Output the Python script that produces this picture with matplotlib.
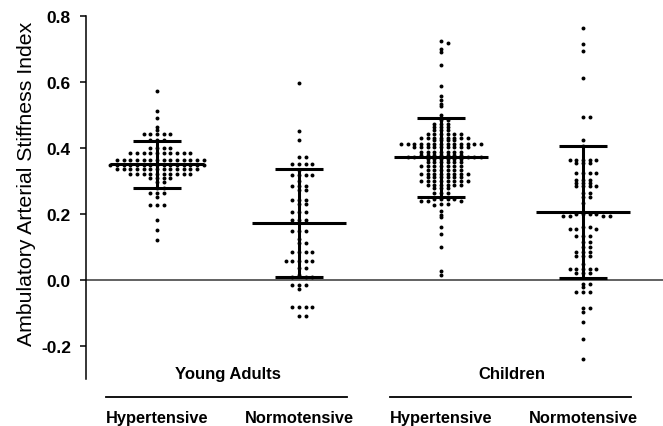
import numpy as np
import matplotlib
matplotlib.use("Agg")
import matplotlib.pyplot as plt
from matplotlib.transforms import blended_transform_factory

plt.rcParams['font.family'] = ['Liberation Sans', 'DejaVu Sans']

# dot rows: value of the row and how many dots sit in it
ya_hyp_vals = [0.572, 0.513, 0.492, 0.463, 0.454, 0.443, 0.423, 0.400, 0.385, 0.365,
               0.350, 0.338, 0.322, 0.310, 0.298, 0.280, 0.265, 0.252, 0.228, 0.183,
               0.153, 0.122]
ya_hyp_counts = [1, 1, 1, 1, 1, 5, 3, 4, 10, 14,
                 15, 13, 10, 4, 2, 2, 3, 1, 3, 1,
                 1, 1]

ya_norm_vals = [0.596, 0.451, 0.423, 0.373, 0.352, 0.335, 0.319, 0.300, 0.285, 0.272,
                0.242, 0.230, 0.205, 0.182, 0.150, 0.125, 0.111, 0.084, 0.058, 0.036,
                0.016, 0.009, -0.015, -0.027, -0.082, -0.108]
ya_norm_counts = [1, 1, 1, 2, 4, 1, 4, 1, 3, 2,
                  3, 2, 3, 3, 3, 1, 2, 4, 5, 2,
                  1, 3, 3, 1, 4, 2]

ch_hyp_vals = [0.724, 0.717, 0.699, 0.690, 0.651, 0.589, 0.557, 0.545, 0.535, 0.526,
               0.500, 0.484, 0.474, 0.464, 0.456, 0.444, 0.431, 0.423, 0.413, 0.403,
               0.388, 0.380, 0.374, 0.366, 0.358, 0.347, 0.335, 0.322, 0.312, 0.299,
               0.289, 0.279, 0.264, 0.246, 0.239, 0.231, 0.226, 0.208, 0.198, 0.190,
               0.162, 0.141, 0.099, 0.028, 0.015]
ch_hyp_counts = [1, 1, 1, 1, 1, 1, 1, 1, 1, 1,
                 1, 2, 3, 3, 3, 6, 8, 4, 13, 9,
                 7, 7, 5, 6, 6, 7, 6, 8, 6, 8,
                 6, 3, 3, 4, 3, 2, 1, 1, 1, 1,
                 1, 1, 1, 1, 1]

ch_norm_vals = [0.763, 0.714, 0.694, 0.613, 0.493, 0.423, 0.405, 0.363, 0.355, 0.324,
                0.302, 0.294, 0.284, 0.263, 0.253, 0.232, 0.201, 0.194, 0.162, 0.155,
                0.133, 0.115, 0.099, 0.084, 0.074, 0.050, 0.033, 0.021, -0.012, -0.022,
                -0.037, -0.086, -0.098, -0.127, -0.179, -0.238]
ch_norm_counts = [1, 1, 1, 1, 2, 1, 1, 5, 3, 4,
                  3, 3, 4, 2, 2, 1, 4, 4, 2, 3,
                  3, 2, 2, 3, 3, 1, 5, 3, 2, 1,
                  3, 2, 1, 1, 1, 1]

# mean and SD per column
means = [0.351, 0.173, 0.372, 0.206]
sds = [0.071, 0.164, 0.120, 0.199]

categories = ['Hypertensive', 'Normotensive', 'Hypertensive', 'Normotensive']
groups = ['Young Adults', 'Children']

columns = [(ya_hyp_vals, ya_hyp_counts), (ya_norm_vals, ya_norm_counts),
           (ch_hyp_vals, ch_hyp_counts), (ch_norm_vals, ch_norm_counts)]

dot_step = 0.047
min_gap = 0.0075   # dots closer than this in y can't share a column


def swarm(vals, counts):
    # Prism-like fill: centre column first, then right, left, right, ...
    placed = []
    for v, n in zip(vals, counts):
        for _ in range(n):
            k = 0
            while True:
                j = (k + 1) // 2
                col = j if k % 2 == 1 else -j
                if all(c != col or abs(pv - v) >= min_gap for pv, c in placed):
                    break
                k += 1
            placed.append((v, col))
    ys = np.array([p[0] for p in placed])
    xs = np.array([p[1] for p in placed]) * dot_step
    return xs, ys


fig = plt.figure(figsize=(6.63, 4.27), dpi=100)
ax = fig.add_axes([0.129, 0.110, 0.871, 0.850])

for i, (vals, counts) in enumerate(columns):
    pos = i + 1
    xs, ys = swarm(vals, counts)
    ax.scatter(pos + xs, ys, s=8, color='black', linewidths=0, zorder=3)

    m, s = means[i], sds[i]
    ax.plot([pos - 0.33, pos + 0.33], [m, m], color='black', lw=2.2, zorder=4,
            solid_capstyle='butt')
    ax.plot([pos, pos], [m - s, m + s], color='black', lw=2.2, zorder=4)
    for yy in (m - s, m + s):
        ax.plot([pos - 0.17, pos + 0.17], [yy, yy], color='black', lw=2.2, zorder=4,
                solid_capstyle='butt')

ax.axhline(0, color='#555555', lw=1.3, zorder=1)

ax.set_xlim(0.496, 4.563)
ax.set_ylim(-0.3, 0.8)
ax.set_yticks([-0.2, 0.0, 0.2, 0.4, 0.6, 0.8])
ax.set_yticklabels(['%.1f' % t for t in [-0.2, 0.0, 0.2, 0.4, 0.6, 0.8]],
                   fontsize=12.5, fontweight='bold')
ax.set_xticks([])
for side in ['top', 'right', 'bottom']:
    ax.spines[side].set_visible(False)
ax.spines['left'].set_linewidth(1.1)
ax.tick_params(axis='y', direction='out', length=4.5, width=1.1, pad=6)

ax.set_ylabel('Ambulatory Arterial Stiffness Index', fontsize=15.3)
ax.yaxis.set_label_coords(-0.086, 0.54)

tr = blended_transform_factory(ax.transData, fig.transFigure)
for i, cat in enumerate(categories):
    ax.text(i + 1, 0.021, cat, transform=tr, ha='center', va='center',
            fontsize=11.8, fontweight='bold', clip_on=False)
for g, name in enumerate(groups):
    c = 1.5 + 2 * g
    ax.text(c, 0.124, name, transform=tr, ha='center', va='center',
            fontsize=12, fontweight='bold', clip_on=False)
    ax.plot([c - 0.86, c + 0.84], [0.068, 0.068], transform=tr, color='black',
            lw=1.3, clip_on=False)

fig.savefig('out.png', dpi=100)
